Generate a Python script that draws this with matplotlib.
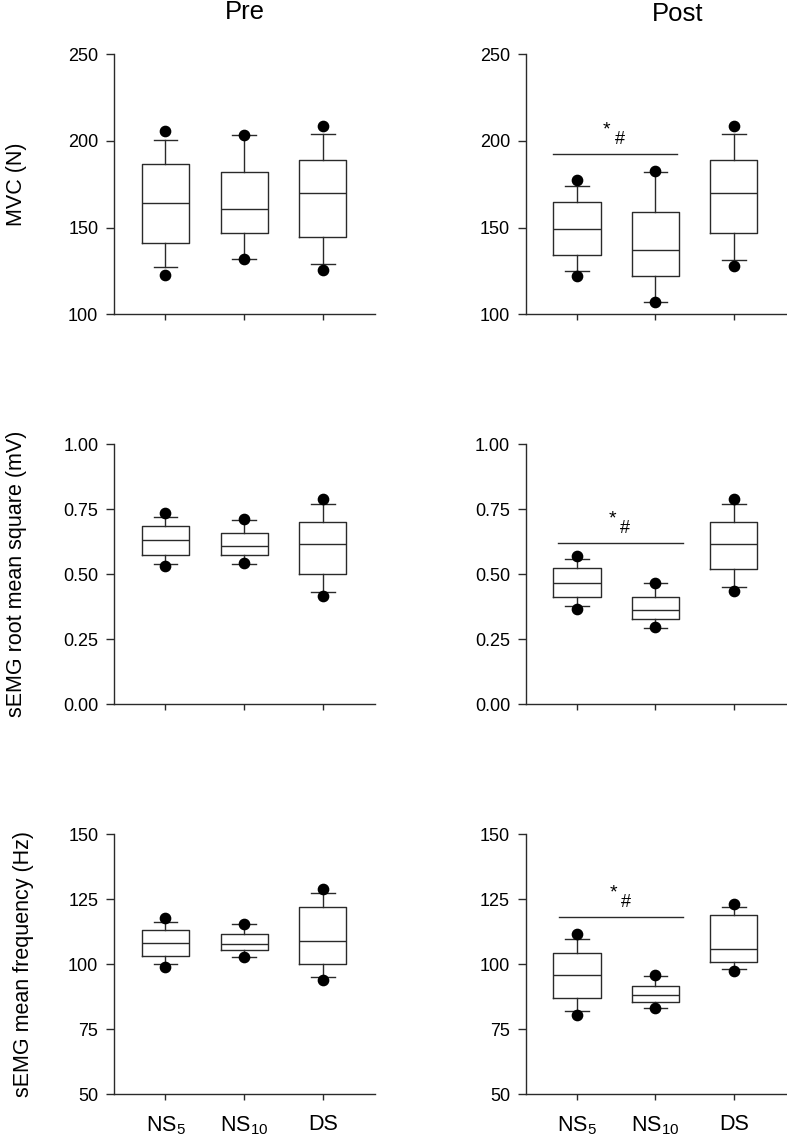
import matplotlib
matplotlib.use("Agg")
import matplotlib.pyplot as plt

plt.rcParams['font.family'] = ['Liberation Sans', 'DejaVu Sans']
plt.rcParams['mathtext.default'] = 'regular'

# ---------------- data ----------------
groups = ["NS$_5$", "NS$_{10}$", "DS"]
columns = ["Pre", "Post"]
ylabels = ["MVC (N)", "sEMG root mean square (mV)", "sEMG mean frequency (Hz)"]
yticks = [[100, 150, 200, 250], [0.00, 0.25, 0.50, 0.75, 1.00], [50, 75, 100, 125, 150]]
ytick_fmt = ["{:.0f}", "{:.2f}", "{:.0f}"]

# MVC
mvc_pre_whislo = [127.1, 132.1, 129.0]
mvc_pre_q1 = [141.1, 146.7, 144.4]
mvc_pre_med = [164.0, 160.6, 170.0]
mvc_pre_q3 = [186.9, 181.9, 189.0]
mvc_pre_whishi = [200.7, 203.3, 204.2]
mvc_pre_lo = [122.8, 132.0, 125.7]
mvc_pre_hi = [205.7, 203.6, 208.6]

mvc_post_whislo = [125.0, 106.9, 131.3]
mvc_post_q1 = [134.0, 121.9, 146.7]
mvc_post_med = [149.4, 136.9, 170.0]
mvc_post_q3 = [164.6, 159.2, 189.0]
mvc_post_whishi = [173.8, 182.2, 204.2]
mvc_post_lo = [122.1, 107.0, 127.8]
mvc_post_hi = [177.3, 182.5, 208.6]

# RMS
rms_pre_whislo = [0.541, 0.540, 0.432]
rms_pre_q1 = [0.575, 0.574, 0.500]
rms_pre_med = [0.631, 0.608, 0.617]
rms_pre_q3 = [0.687, 0.658, 0.702]
rms_pre_whishi = [0.722, 0.710, 0.770]
rms_pre_lo = [0.532, 0.543, 0.417]
rms_pre_hi = [0.737, 0.713, 0.790]

rms_post_whislo = [0.377, 0.295, 0.451]
rms_post_q1 = [0.412, 0.327, 0.520]
rms_post_med = [0.468, 0.361, 0.617]
rms_post_q3 = [0.523, 0.412, 0.702]
rms_post_whishi = [0.558, 0.465, 0.772]
rms_post_lo = [0.368, 0.297, 0.435]
rms_post_hi = [0.572, 0.465, 0.791]

# Mean frequency
mf_pre_whislo = [100.0, 102.8, 95.0]
mf_pre_q1 = [103.1, 105.4, 100.3]
mf_pre_med = [108.2, 107.8, 109.0]
mf_pre_q3 = [113.3, 111.7, 121.9]
mf_pre_whishi = [116.4, 115.4, 127.3]
mf_pre_lo = [99.1, 103.0, 94.0]
mf_pre_hi = [117.7, 115.6, 128.8]

mf_post_whislo = [81.9, 83.1, 98.1]
mf_post_q1 = [87.0, 85.5, 101.0]
mf_post_med = [95.9, 88.1, 106.0]
mf_post_q3 = [104.2, 91.8, 119.1]
mf_post_whishi = [109.6, 95.6, 122.2]
mf_post_lo = [80.4, 83.3, 97.4]
mf_post_hi = [111.5, 95.9, 123.3]

# significance bars (Post column): y, x-start, x-end
sig_y = [192.5, 0.620, 118.1]
sig_x0 = [0.69, 0.753, 0.77]
sig_x1 = [2.276, 2.349, 2.355]

panels = [
    [(mvc_pre_whislo, mvc_pre_q1, mvc_pre_med, mvc_pre_q3, mvc_pre_whishi, mvc_pre_lo, mvc_pre_hi),
     (mvc_post_whislo, mvc_post_q1, mvc_post_med, mvc_post_q3, mvc_post_whishi, mvc_post_lo, mvc_post_hi)],
    [(rms_pre_whislo, rms_pre_q1, rms_pre_med, rms_pre_q3, rms_pre_whishi, rms_pre_lo, rms_pre_hi),
     (rms_post_whislo, rms_post_q1, rms_post_med, rms_post_q3, rms_post_whishi, rms_post_lo, rms_post_hi)],
    [(mf_pre_whislo, mf_pre_q1, mf_pre_med, mf_pre_q3, mf_pre_whishi, mf_pre_lo, mf_pre_hi),
     (mf_post_whislo, mf_post_q1, mf_post_med, mf_post_q3, mf_post_whishi, mf_post_lo, mf_post_hi)],
]

# ---------------- layout ----------------
W, H = 787, 1141
fig = plt.figure(figsize=(W / 100, H / 100), dpi=100)

col_x = [114.3, 526.0]
col_w = [260.4, 259.7]
row_top = [54.3, 444.3, 834.3]
row_h = 260.0

line_c = '#2a2a2a'
lw = 1.0

for r in range(3):
    for c in range(2):
        left = col_x[c] / W
        bottom = 1 - (row_top[r] + row_h) / H
        ax = fig.add_axes([left, bottom, col_w[c] / W, row_h / H])
        wl, q1, med, q3, wh, lo, hi = panels[r][c]
        stats = []
        for i in range(3):
            stats.append(dict(med=med[i], q1=q1[i], q3=q3[i], whislo=wl[i], whishi=wh[i],
                              fliers=[lo[i], hi[i]]))
        ax.bxp(stats, positions=[1, 2, 3], widths=0.6, capwidths=0.3,
               boxprops=dict(color=line_c, linewidth=lw),
               medianprops=dict(color=line_c, linewidth=lw),
               whiskerprops=dict(color=line_c, linewidth=lw),
               capprops=dict(color=line_c, linewidth=lw),
               flierprops=dict(marker='o', markersize=7.4, markerfacecolor='black',
                               markeredgecolor='black', linestyle='none'))
        ax.set_xlim(0.35, 3.66)
        yt = yticks[r]
        ax.set_ylim(yt[0], yt[-1])
        ax.set_yticks(yt)
        ax.set_yticklabels([ytick_fmt[r].format(v) for v in yt], fontsize=13)
        ax.set_xticks([1, 2, 3])
        if r == 2:
            ax.set_xticklabels(groups, fontsize=15.5)
        else:
            ax.set_xticklabels([])
        ax.tick_params(axis='y', length=5.5, width=lw, color=line_c, pad=6)
        ax.tick_params(axis='x', length=4.5, width=lw, color=line_c, pad=10)
        for s in ['top', 'right']:
            ax.spines[s].set_visible(False)
        for s in ['left', 'bottom']:
            ax.spines[s].set_color(line_c)
            ax.spines[s].set_linewidth(lw)

        if c == 1:
            ax.plot([sig_x0[r], sig_x1[r]], [sig_y[r], sig_y[r]], color=line_c, lw=lw)
            xm = (sig_x0[r] + sig_x1[r]) / 2
            ax.annotate('#', xy=(xm, sig_y[r]), xytext=(3.5, 4.5), textcoords='offset points',
                        ha='center', va='bottom', fontsize=13)
            ax.annotate('*', xy=(xm, sig_y[r]), xytext=(-5.8, 11.5), textcoords='offset points',
                        ha='center', va='bottom', fontsize=14)

# y labels
ylabel_x = [16.5, 16.5, 24.0]
for r in range(3):
    yc = row_top[r] + row_h / 2
    fig.text(ylabel_x[r] / W, 1 - yc / H, ylabels[r], rotation=90, ha='center', va='center',
             fontsize=15.5)

# column titles
fig.text(245 / W, 1 - 12 / H, columns[0], ha='center', va='center', fontsize=18.5)
fig.text(678 / W, 1 - 14 / H, columns[1], ha='center', va='center', fontsize=18.5)

fig.savefig("out.png", dpi=100)
